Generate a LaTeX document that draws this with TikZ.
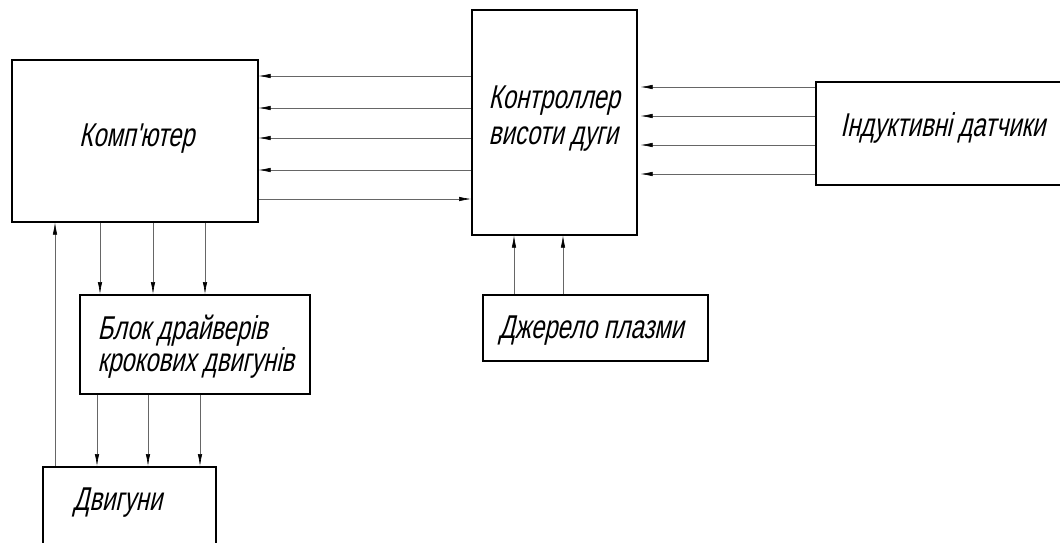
\documentclass[tikz,border=0pt]{standalone}
\usepackage{fontspec}
\newfontfamily\gost[FakeSlant=0.22,FakeStretch=0.72]{Liberation Sans}
\usetikzlibrary{arrows.meta}
\begin{document}
\begin{tikzpicture}[x=1pt,y=-1pt,
  box/.style={draw=black,line width=1.6pt,anchor=north west,inner sep=0pt},
  lbl/.style={font=\gost\fontsize{33}{36}\selectfont,align=left,inner sep=0pt},
  arr/.style={draw=black!60,line width=0.6pt,-{Latex[length=12pt,width=4.5pt,black]}}]
\useasboundingbox[fill=white] (0,0) rectangle (1060,542);
% boxes
\node[box,minimum width=246pt,minimum height=162pt] (comp) at (11,59) {};
\node[box,minimum width=165pt,minimum height=225pt] (ctrl) at (471,9) {};
\node[box,minimum width=250pt,minimum height=103pt] (ind) at (815,81) {};
\node[box,minimum width=225pt,minimum height=66pt] (pl) at (482,294) {};
\node[box,minimum width=230pt,minimum height=99pt] (drv) at (79,294) {};
\node[box,minimum width=173pt,minimum height=100pt] (mot) at (42,466) {};
% labels
\node[lbl] (tcomp) at ([xshift=2pt,yshift=2pt]comp.center) {Комп'ютер};
\node[lbl] (tctrl) at ([yshift=4pt]ctrl.center) {Контроллер\\висоти дуги};
\node[lbl] (tind) at ([xshift=2pt,yshift=5pt]ind.center) {Індуктивні датчики};
\node[lbl] (tpl) at ([xshift=-4pt,yshift=-3pt]pl.center) {Джерело плазми};
\node[lbl] (tdrv) at ([xshift=1pt,yshift=-2pt]drv.center) {Блок драйверів\\[-4pt]крокових двигунів};
\node[lbl,anchor=west] (tmot) at (73,503) {Двигуни};
% controller -> computer
\foreach \y in {76,108,138,170}
  \draw[arr] (ctrl.west |- 0,\y) -- (comp.east |- 0,\y);
% computer -> controller
\draw[arr] (comp.east |- 0,199) -- (ctrl.west |- 0,199);
% inductive -> controller
\foreach \y in {87,116,145,174}
  \draw[arr] (ind.west |- 0,\y) -- ([xshift=3pt]ctrl.east |- 0,\y);
% plasma -> controller
\foreach \x in {514,563}
  \draw[arr] (pl.north -| \x,0) -- (ctrl.south -| \x,0);
% computer -> drivers
\foreach \x in {100,153,205}
  \draw[arr] (comp.south -| \x,0) -- (drv.north -| \x,0);
% drivers -> motors
\foreach \x in {97,148,200}
  \draw[arr] (drv.south -| \x,0) -- (mot.north -| \x,0);
% motors -> computer
\draw[arr] (mot.north -| 55,0) -- (comp.south -| 55,0);
\end{tikzpicture}
\end{document}
